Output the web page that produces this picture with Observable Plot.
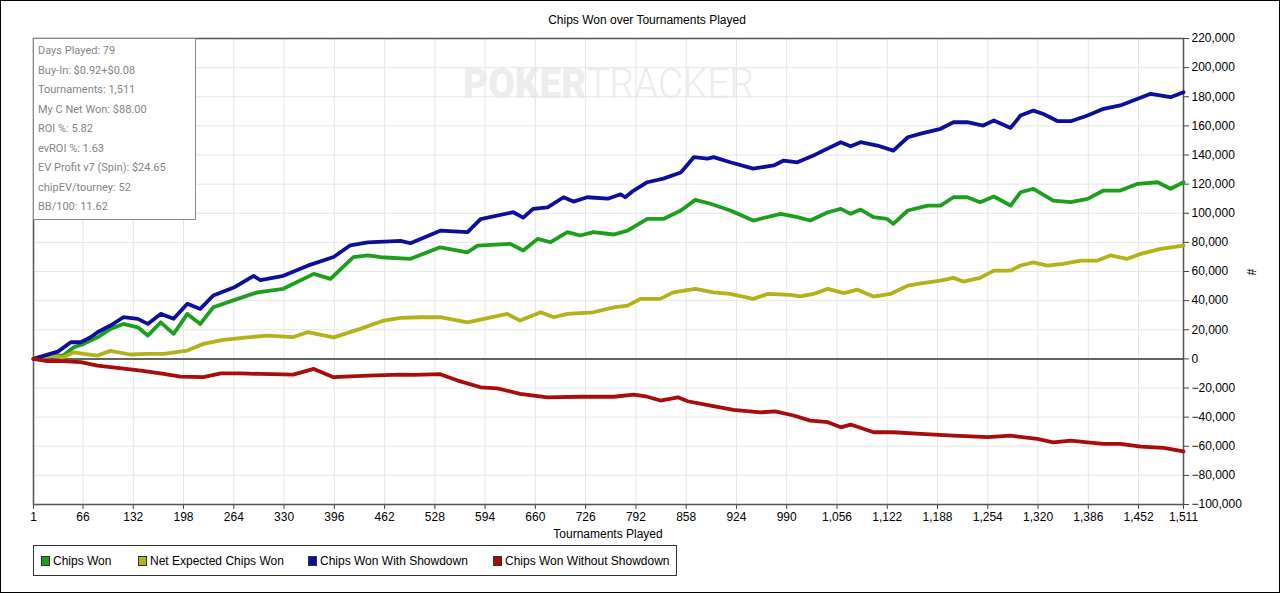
<!DOCTYPE html>
<html>
<head>
<meta charset="utf-8">
<script src="https://cdn.jsdelivr.net/npm/d3@7"></script>
<script src="https://cdn.jsdelivr.net/npm/@observablehq/plot@0.6"></script>
<style>
  html, body { margin: 0; padding: 0; background: #fff; }
  #wrap { position: relative; width: 1280px; height: 593px; overflow: hidden; background: #fff; font-family: "Liberation Sans", Arial, sans-serif; }
  #frame { position: absolute; left: 0; top: 0; width: 1280px; height: 593px; box-sizing: border-box; border: 1px solid #000; pointer-events: none; z-index: 10; }
  #chart { position: absolute; left: 0; top: 0; z-index: 2; }
  #watermark { position: absolute; left: 463px; top: 59px; font-family: Roboto, "Liberation Sans", sans-serif; font-size: 42px; color: #ededed; z-index: 1; white-space: nowrap; transform: scaleX(0.92); transform-origin: left top; }
  #watermark b { font-weight: 900; }
  #watermark span { font-weight: 300; }
  #title { position: absolute; top: 13px; left: 647px; transform: translateX(-50%); font-size: 12px; color: #000; white-space: nowrap; z-index: 3; }
  #info { position: absolute; left: 33px; top: 38px; width: 163px; height: 182px; box-sizing: border-box; border: 1px solid #8a8a8a; background: #fff; z-index: 4; padding: 2px 0 0 4px; font-family: Roboto, "Noto Sans", sans-serif; font-size: 11px; color: #858585; line-height: 19.5px; }
  #xlabel { position: absolute; left: 608px; top: 527px; transform: translateX(-50%); font-size: 12px; color: #000; z-index: 3; white-space: nowrap; }
  #ylabel { position: absolute; left: 1248px; top: 265px; font-size: 12px; color: #000; z-index: 3; transform: rotate(90deg); }
  #legend { position: absolute; left: 33px; top: 545px; width: 644px; height: 31px; box-sizing: border-box; border: 1px solid #333; background: #fff; z-index: 4; font-size: 12px; color: #000; }
  .li { position: absolute; top: 8px; white-space: nowrap; }
  .sw { display: inline-block; width: 7px; height: 8px; border: 1px solid #333; vertical-align: -1px; margin-right: 3px; }
</style>
</head>
<body>
<div id="wrap">
  <div id="watermark"><b>POKER</b><span>TRACKER</span></div>
  <div id="chart"></div>
  <div id="title">Chips Won over Tournaments Played</div>
  <div id="info"></div>
  <div id="xlabel">Tournaments Played</div>
  <div id="ylabel">#</div>
  <div id="legend"></div>
  <div id="frame"></div>
</div>
<script>
// ---- Data ----
const seriesNames = ["Chips Won", "Net Expected Chips Won", "Chips Won With Showdown", "Chips Won Without Showdown"];
const seriesColors = ["#1e9e1e", "#b2b21a", "#0e0e9c", "#a80c0c"];

const xTicks = [1, 66, 132, 198, 264, 330, 396, 462, 528, 594, 660, 726, 792, 858, 924, 990, 1056, 1122, 1188, 1254, 1320, 1386, 1452, 1511];
const yTicks = [-100000, -80000, -60000, -40000, -20000, 0, 20000, 40000, 60000, 80000, 100000, 120000, 140000, 160000, 180000, 200000, 220000];

const infoLines = ["Days Played: 79", "Buy-In: $0.92+$0.08", "Tournaments: 1,511", "My C Net Won: $88.00", "ROI %: 5.82", "evROI %: 1.63", "EV Profit v7 (Spin): $24.65", "chipEV/tourney: 52", "BB/100: 11.62"];

// Chips Won (green)
const tGreen = [1, 23, 40, 54, 67, 85, 102, 119, 138, 151, 168, 185, 203, 220, 237, 269, 295, 329, 369, 391, 421, 440, 457, 496, 535, 571, 584, 627, 644, 663, 680, 702, 719, 736, 763, 781, 807, 828, 851, 870, 890, 916, 946, 982, 1004, 1021, 1044, 1061, 1074, 1087, 1104, 1122, 1130, 1149, 1175, 1192, 1209, 1227, 1244, 1262, 1284, 1297, 1314, 1340, 1363, 1385, 1406, 1428, 1451, 1477, 1494, 1511];
const vGreen = [0, 2300, 2300, 8000, 10300, 14800, 20600, 24000, 21700, 16000, 25100, 17200, 30900, 24000, 35400, 41200, 45700, 48100, 58400, 54900, 69800, 71000, 69800, 68700, 76600, 73200, 77800, 79000, 74400, 82400, 80100, 87000, 84700, 87000, 85400, 88100, 96100, 96100, 101900, 109200, 106500, 101900, 95000, 99600, 97300, 95000, 100700, 103000, 99600, 102500, 97300, 96100, 92700, 101900, 105300, 105300, 111000, 111000, 107600, 111500, 105300, 114400, 116800, 108700, 107600, 109900, 115600, 115600, 120200, 121300, 116800, 121300];

// Net Expected Chips Won (olive)
const tYellow = [1, 23, 40, 54, 67, 85, 102, 128, 151, 172, 203, 224, 250, 282, 308, 342, 361, 395, 430, 461, 483, 509, 535, 571, 623, 640, 667, 684, 702, 736, 763, 781, 798, 824, 841, 870, 894, 916, 946, 965, 995, 1008, 1025, 1044, 1065, 1083, 1104, 1126, 1149, 1166, 1192, 1209, 1222, 1244, 1262, 1284, 1297, 1314, 1332, 1353, 1376, 1398, 1415, 1437, 1455, 1481, 1511];
const vYellow = [0, 2300, 1100, 4500, 3400, 2300, 5500, 3000, 3400, 3400, 5700, 10300, 13000, 14800, 16000, 15000, 18300, 14800, 20600, 26300, 28200, 28600, 28600, 25100, 30900, 26300, 32000, 28600, 30900, 32000, 35400, 36600, 41200, 41200, 45700, 48100, 45700, 44600, 41200, 44600, 44000, 43000, 44600, 48100, 45100, 47500, 42800, 44600, 50300, 51900, 53800, 55600, 53100, 55600, 60600, 60600, 64100, 66300, 64100, 65200, 67500, 67500, 71000, 68700, 72100, 75500, 77800];

// Chips Won With Showdown (blue)
const tBlue = [1, 23, 33, 50, 63, 76, 85, 102, 119, 138, 151, 168, 185, 203, 220, 237, 264, 290, 299, 329, 361, 395, 417, 440, 483, 496, 535, 571, 588, 631, 644, 657, 676, 697, 710, 728, 755, 772, 778, 789, 807, 828, 851, 868, 886, 894, 916, 946, 973, 986, 1004, 1025, 1036, 1061, 1074, 1087, 1109, 1130, 1149, 1166, 1192, 1209, 1227, 1248, 1262, 1284, 1297, 1314, 1327, 1346, 1363, 1385, 1406, 1428, 1445, 1468, 1494, 1511];
const vBlue = [0, 3400, 5000, 11400, 11400, 14800, 18300, 22900, 28600, 27500, 24000, 30900, 27500, 37800, 34300, 43500, 49000, 57000, 54000, 57000, 64000, 70000, 78000, 80000, 81000, 79400, 88000, 87000, 96000, 100700, 97000, 103000, 104000, 111000, 108000, 111000, 110000, 113000, 111000, 115600, 121300, 123800, 128000, 138500, 137500, 138500, 135000, 130700, 132800, 136200, 135000, 139600, 142500, 148800, 146000, 148800, 146500, 143000, 152200, 154700, 158000, 162500, 162500, 160200, 163700, 158600, 167100, 170500, 168200, 163200, 163200, 167100, 171700, 174000, 177400, 182000, 179700, 183100];

// Chips Won Without Showdown (red)
const tRed = [1, 19, 40, 63, 85, 111, 142, 172, 194, 224, 247, 273, 299, 342, 369, 395, 440, 483, 500, 535, 558, 588, 610, 640, 676, 719, 763, 789, 807, 824, 847, 860, 890, 920, 956, 975, 999, 1021, 1044, 1061, 1074, 1104, 1130, 1166, 1209, 1254, 1284, 1319, 1340, 1363, 1385, 1406, 1428, 1455, 1485, 1511];
const vRed = [0, -1600, -1600, -2300, -4600, -6200, -8000, -10300, -12200, -12600, -9900, -10000, -10300, -10800, -6900, -12600, -11500, -10800, -11000, -10500, -14900, -19500, -20200, -24000, -26400, -26000, -26000, -24500, -26000, -28600, -26400, -29100, -32100, -35000, -36700, -36000, -38900, -42400, -43500, -47000, -45100, -50400, -50400, -51500, -52700, -53800, -52700, -55000, -57300, -56100, -57300, -58400, -58400, -60200, -61100, -63500];

// ---- Build ----
const seriesT = [tGreen, tYellow, tBlue, tRed];
const seriesV = [vGreen, vYellow, vBlue, vRed];
const rows = [];
seriesNames.forEach((name, i) => {
  seriesT[i].forEach((t, j) => rows.push({series: name, t, v: seriesV[i][j]}));
});

const fmt = d3.format(",");

const chart = Plot.plot({
  width: 1280,
  height: 593,
  marginLeft: 33,
  marginRight: 97,
  marginTop: 38,
  marginBottom: 89,
  style: {background: "transparent", fontFamily: "'Liberation Sans', Arial, sans-serif", fontSize: "12px", color: "#000", overflow: "visible"},
  x: {domain: [1, 1511]},
  y: {domain: [-100000, 220000]},
  color: {domain: seriesNames, range: seriesColors},
  marks: [
    Plot.gridX({ticks: xTicks, stroke: "#e6e6e6", strokeOpacity: 1}),
    Plot.gridY({ticks: yTicks, stroke: "#e6e6e6", strokeOpacity: 1}),
    Plot.axisX({ticks: xTicks, tickFormat: fmt, tickSize: 5, tickPadding: 3, label: null, stroke: "#444"}),
    Plot.axisY({anchor: "right", ticks: yTicks, tickFormat: fmt, tickSize: 5, tickPadding: 3, label: null, stroke: "#444"}),
    Plot.frame({stroke: "#555", strokeWidth: 1.5}),
    Plot.ruleY([0], {stroke: "#333", strokeWidth: 1.5}),
    Plot.line(rows, {x: "t", y: "v", z: "series", stroke: "series", strokeWidth: 3.8, strokeLinejoin: "round", strokeLinecap: "round"})
  ]
});
document.getElementById("chart").appendChild(chart);

// Info box
const info = document.getElementById("info");
infoLines.forEach(s => { const d = document.createElement("div"); d.textContent = s; info.appendChild(d); });

// Legend
const legendX = [7, 104, 274, 459];
const legend = document.getElementById("legend");
seriesNames.forEach((name, i) => {
  const d = document.createElement("div");
  d.className = "li";
  d.style.left = legendX[i] + "px";
  const sw = document.createElement("span");
  sw.className = "sw";
  sw.style.background = seriesColors[i];
  d.appendChild(sw);
  d.appendChild(document.createTextNode(name));
  legend.appendChild(d);
});
</script>
</body>
</html>
